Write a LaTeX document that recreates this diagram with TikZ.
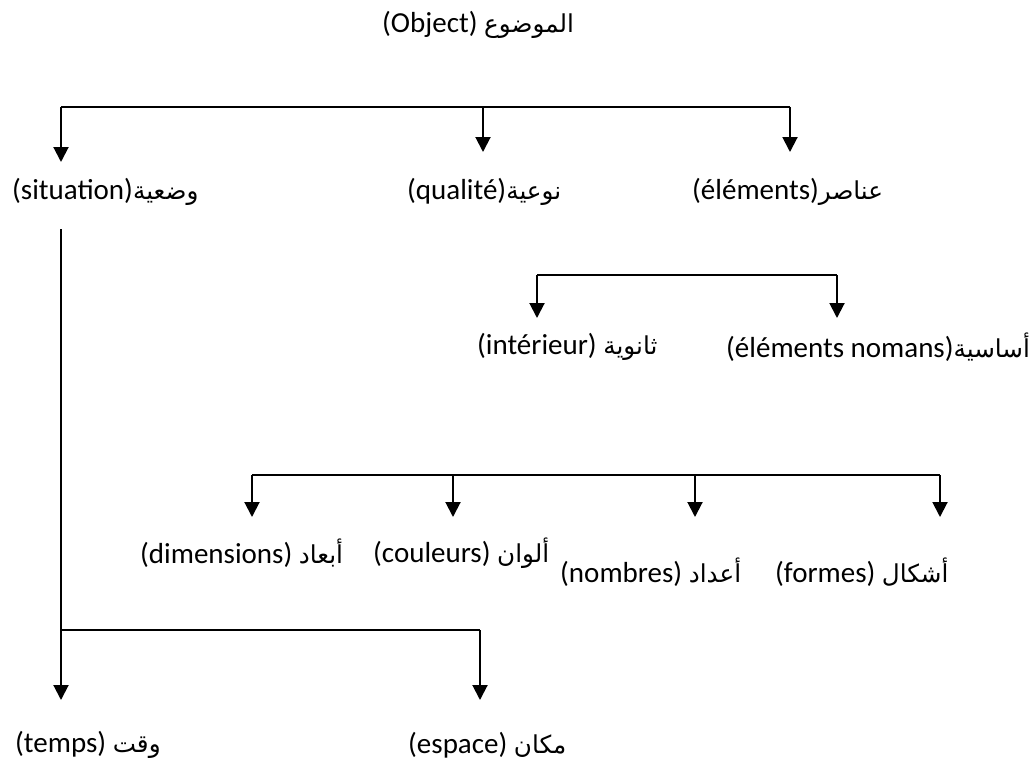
\documentclass[tikz,border=0pt]{standalone}
\usepackage{fontspec}
\setmainfont{Carlito}
\newfontfamily\arabicfont[Script=Arabic,Scale=0.85]{DejaVu Sans}
\TeXXeTstate=1
\usetikzlibrary{arrows.meta}
\newcommand\arb[1]{{\arabicfont\beginR #1\endR}}
\tikzset{
  lbl/.style={inner sep=0pt, anchor=west, font=\fontsize{29}{34}\selectfont},
  conn/.style={line width=2pt, black},
  arr/.style={conn, -{Triangle[width=15pt,length=15pt]}}
}
\begin{document}
\begin{tikzpicture}[x=1pt,y=-1pt]
\useasboundingbox (0,0) rectangle (1035,765);
% labels
\node[lbl] (obj) at (382,25) {(Object) \arb{الموضوع}};
\node[lbl] (sit) at (12,192) {(situation)\arb{وضعية}};
\node[lbl] (qua) at (407,192) {(qualité)\arb{نوعية}};
\node[lbl] (ele) at (692,192) {(éléments)\arb{عناصر}};
\node[lbl] (int) at (477,347) {(intérieur) \arb{ثانوية}};
\node[lbl] (nom) at (726,347) {(éléments nomans)\arb{أساسية}};
\node[lbl] (dim) at (140,553) {(dimensions) \arb{أبعاد}};
\node[lbl] (cou) at (373,553) {(couleurs) \arb{ألوان}};
\node[lbl] (nbr) at (560,572) {(nombres) \arb{أعداد}};
\node[lbl] (frm) at (775,572) {(formes) \arb{أشكال}};
\node[lbl] (tmp) at (15,745) {(temps) \arb{وقت}};
\node[lbl] (esp) at (408,745) {(espace) \arb{مكان}};
% tree 1
\coordinate (a1) at (61,107);
\coordinate (a2) at (483,107);
\coordinate (a3) at (790,107);
\coordinate (t1) at (61,162);
\coordinate (t2) at (483,152);
\coordinate (t3) at (790,152);
\draw[conn] (a1) -- (a3);
\draw[arr] (a1) -- (t1);
\draw[arr] (a2) -- (t2);
\draw[arr] (a3) -- (t3);
% tree 2
\coordinate (b1) at (537,275);
\coordinate (b2) at (837,275);
\coordinate (u1) at (537,318);
\coordinate (u2) at (837,318);
\draw[conn] (b1) -- (b2);
\draw[arr] (b1) -- (u1);
\draw[arr] (b2) -- (u2);
% tree 3
\coordinate (c1) at (252,475);
\coordinate (c2) at (453,475);
\coordinate (c3) at (695,475);
\coordinate (c4) at (940,475);
\coordinate (v1) at (252,517);
\coordinate (v2) at (453,517);
\coordinate (v3) at (695,517);
\coordinate (v4) at (940,517);
\draw[conn] (c1) -- (c4);
\draw[arr] (c1) -- (v1);
\draw[arr] (c2) -- (v2);
\draw[arr] (c3) -- (v3);
\draw[arr] (c4) -- (v4);
% tree 4 (situation)
\coordinate (d0) at (61,229);
\coordinate (d1) at (61,630);
\coordinate (d2) at (480,630);
\coordinate (w1) at (61,700);
\coordinate (w2) at (480,700);
\draw[conn] (d0) -- (d1);
\draw[conn] (d1) -- (d2);
\draw[arr] (d1) -- (w1);
\draw[arr] (d2) -- (w2);
\end{tikzpicture}
\end{document}
